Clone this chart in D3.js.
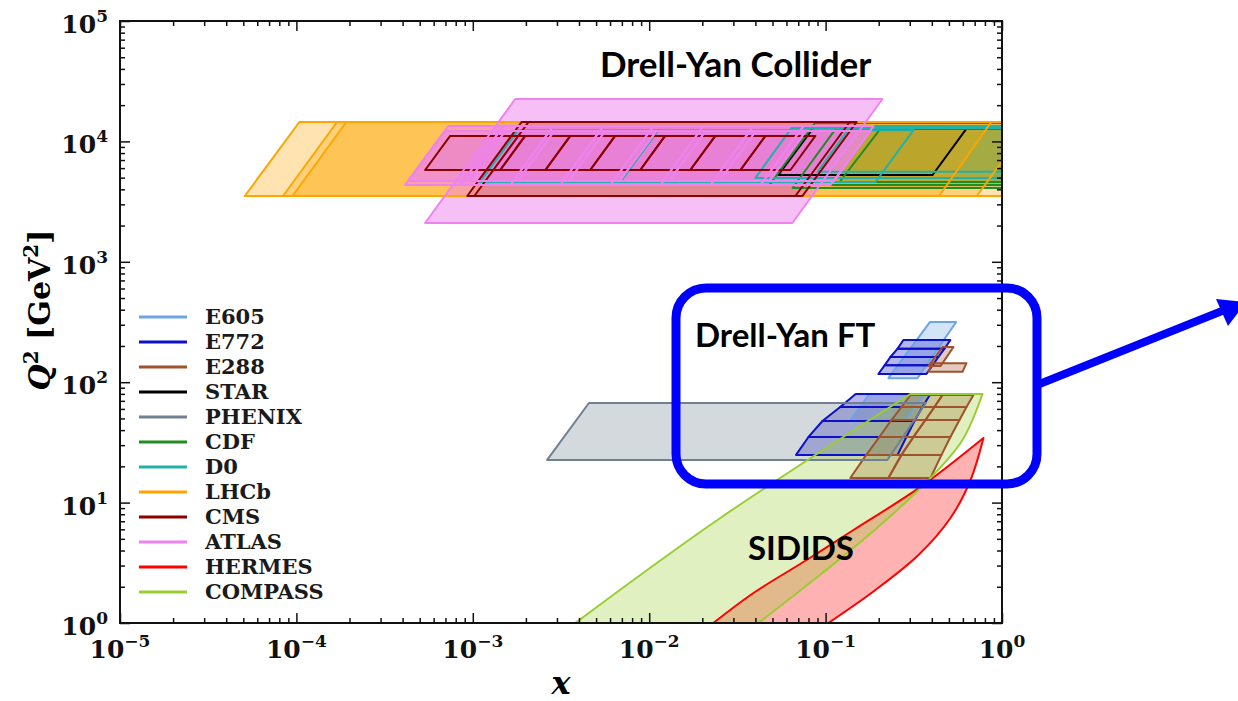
<!DOCTYPE html>
<html>
<head>
<meta charset="utf-8">
<script src="https://cdn.jsdelivr.net/npm/d3@7/dist/d3.min.js"></script>
<style>
  html, body { margin: 0; padding: 0; background: #fff; }
  svg { display: block; }
  .tick-label { font-family: 'DejaVu Serif', serif; font-weight: bold; font-size: 25px; fill: #111; }
  .legend text { font-family: 'DejaVu Serif', serif; font-weight: bold; font-size: 21px; fill: #1a1a1a; }
  .note { font-family: Lato, 'Open Sans', sans-serif; font-weight: bold; fill: #000; }
</style>
</head>
<body>
<svg id="chart" width="1238" height="701"></svg>
<script>
var experiments = ['E605', 'E772', 'E288', 'STAR', 'PHENIX', 'CDF', 'D0', 'LHCb', 'CMS', 'ATLAS', 'HERMES', 'COMPASS'];
var lineColors = ['#6ea4e4', '#0c10c8', '#a0522d', '#000000', '#708090', '#228b22', '#20b2aa', '#ffa500', '#8b0000', '#ee82ee', '#ff0000', '#9acd32'];
var fillAlpha = [0.3, 0.3, 0.3, 0.3, 0.3, 0.3, 0.3, 0.3, 0.15, 0.5, 0.3, 0.3];

var xMajor = [1e-5, 1e-4, 1e-3, 1e-2, 1e-1, 1];
var xExp = ['\u22125', '\u22124', '\u22123', '\u22122', '\u22121', '0'];
var yMajor = [1, 10, 100, 1000, 1e4, 1e5];
var yExp = ['0', '1', '2', '3', '4', '5'];

// Drell-Yan fixed target: q = [Q2 low, Q2 high], lo = x edges at Q2 low, hi = x edges at Q2 high
var e605Boxes = [
  {q: [108, 316], lo: [0.227, 0.332], hi: [0.39, 0.55]},
  {q: [48.5, 79.8], lo: [0.138, 0.284], hi: [0.177, 0.364]}
];
var e772Boxes = [
  {q: [190, 224], lo: [0.256, 0.472], hi: [0.276, 0.510]},
  {q: [162, 190], lo: [0.233, 0.436], hi: [0.256, 0.472]},
  {q: [138, 162], lo: [0.216, 0.404], hi: [0.233, 0.436]},
  {q: [117, 138], lo: [0.199, 0.373], hi: [0.216, 0.404]},
  {q: [62.2, 79.8], lo: [0.121, 0.354], hi: [0.148, 0.393]},
  {q: [47.6, 62.2], lo: [0.096, 0.319], hi: [0.121, 0.354]},
  {q: [35.1, 47.6], lo: [0.080, 0.287], hi: [0.096, 0.319]},
  {q: [24.9, 35.1], lo: [0.068, 0.256], hi: [0.080, 0.287]}
];
var e288Boxes = [
  {q: [136, 196], lo: [0.383, 0.448], hi: [0.460, 0.531]},
  {q: [122, 144], lo: [0.383, 0.597], hi: [0.404, 0.629]}
];
var e288GridQ = [78.3, 62.2, 48.5, 35.1, 24.9, 16.0];
var e288GridX = [
  [0.303, 0.269, 0.236, 0.202, 0.170, 0.138],
  [0.460, 0.414, 0.368, 0.315, 0.269, 0.227],
  [0.689, 0.629, 0.574, 0.510, 0.454, 0.393]
];
var phenixBoxes = [
  {q: [22.6, 67.2], lo: [0.00264, 0.224], hi: [0.00455, 0.37]}
];

// Drell-Yan collider
var starBoxes = [
  {q: [5260, 12900], lo: [0.054, 0.404], hi: [0.085, 0.632]}
];
var cdfBoxes = [
  {q: [4340, 14200], lo: [0.048, 1.3], hi: [0.087, 2.35]},
  {q: [4600, 13400], lo: [0.12, 1.5], hi: [0.21, 2.6]},
  {q: [4100, 12700], lo: [0.065, 1.4], hi: [0.114, 2.5]}
];
var d0Boxes = [
  {q: [4600, 12400], lo: [0.0011, 0.00686], hi: [0.00181, 0.01127]},
  {q: [4600, 12400], lo: [0.00686, 0.192], hi: [0.01127, 0.315]},
  {q: [4970, 12900], lo: [0.04, 1.5], hi: [0.064, 2.4]},
  {q: [5600, 13400], lo: [0.09, 1.6], hi: [0.139, 2.5]}
];
var lhcbBoxes = [
  {q: [3520, 14500], lo: [5.1e-5, 0.44], hi: [1.04e-4, 0.87]},
  {q: [3520, 14500], lo: [8.4e-5, 0.72], hi: [1.7e-4, 1.46]},
  {q: [3520, 14500], lo: [9.5e-5, 1.2], hi: [1.92e-4, 2.4]}
];
var cmsBoxes = [
  {q: [3520, 14500], lo: [9.3e-4, 0.0674], hi: [0.00189, 0.137]},
  {q: [3520, 14500], lo: [0.00102, 0.0739], hi: [0.00207, 0.150]}
];
var cmsBinQ = [5790, 11100];
var cmsBinLo = [5.37e-4, 1.43e-3, 2.58e-3, 4.63e-3, 8.9e-3, 0.0171, 0.0329, 0.0632];
var cmsBinHi = [7.44e-4, 1.98e-3, 3.57e-3, 6.41e-3, 0.0123, 0.0237, 0.0456, 0.0875];
var atlasBoxes = [
  {q: [2100, 22500], lo: [5.37e-4, 0.0648], hi: [0.00174, 0.21]}
];
var atlasBinQ = [4340, 13400];
var atlasBinLo = [4.13e-4, 8.48e-4, 1.63e-3, 3.13e-3, 6.02e-3, 0.01156, 0.0222, 0.0427, 0.1065];
var atlasBinHi = [7.26e-4, 1.49e-3, 2.86e-3, 5.5e-3, 0.01058, 0.0203, 0.039, 0.075, 0.187];
var atlasBin2Q = [4700, 12200];
var atlasBin2Lo = [4.3e-4, 9.5e-4, 1.8e-3, 3.5e-3, 6.8e-3, 0.013, 0.025, 0.048, 0.112];
var atlasBin2Hi = [6.93e-4, 1.53e-3, 2.9e-3, 5.64e-3, 0.011, 0.0209, 0.0403, 0.0773, 0.180];

// SIDIS bands, edges listed from low to high Q2
var hermesLeftX = [0.0231, 0.039, 0.0748, 0.1438, 0.345, 0.785];
var hermesLeftQ = [1, 1.775, 3.21, 5.92, 13.5, 34.4];
var hermesRightX = [0.1037, 0.1916, 0.336, 0.5104, 0.663, 0.785];
var hermesRightQ = [1, 1.88, 3.67, 7.45, 15.4, 34.4];
var compassLeftX = [0.00381, 0.0253, 0.3027];
var compassLeftQ = [1, 7.45, 79.8];
var compassRightX = [0.0416, 0.0959, 0.2045, 0.393, 0.597, 0.775];
var compassRightQ = [1, 2.60, 6.52, 16.0, 33.1, 79.8];

var margin = {left: 120, right: 1002, top: 21, bottom: 623};

var x = d3.scaleLog().domain([1e-5, 1]).range([margin.left, margin.right]);
var y = d3.scaleLog().domain([1, 1e5]).range([margin.bottom, margin.top]);

var line = d3.line()
  .x(function(d) { return x(d[0]); })
  .y(function(d) { return y(d[1]); });
var curve = d3.line()
  .x(function(d) { return x(d[0]); })
  .y(function(d) { return y(d[1]); })
  .curve(d3.curveCatmullRom.alpha(0.5));

function boxPath(b) {
  return line([[b.lo[0], b.q[0]], [b.lo[1], b.q[0]], [b.hi[1], b.q[1]], [b.hi[0], b.q[1]]]) + 'Z';
}
function binsFromEdges(q, lo, hi) {
  var out = [];
  for (var i = 0; i < lo.length - 1; i++) {
    out.push({q: q, lo: [lo[i], lo[i + 1]], hi: [hi[i], hi[i + 1]]});
  }
  return out;
}
function gridCells(qEdges, cols) {
  var out = [];
  for (var r = 0; r < qEdges.length - 1; r++) {
    for (var c = 0; c < cols.length - 1; c++) {
      out.push({
        q: [qEdges[r + 1], qEdges[r]],
        lo: [cols[c][r + 1], cols[c + 1][r + 1]],
        hi: [cols[c][r], cols[c + 1][r]]
      });
    }
  }
  return out;
}
// smooth left edge up, smooth right edge back down
function bandPath(lx, lq, rx, rq) {
  var left = lx.map(function(v, i) { return [v, lq[i]]; });
  var right = rx.map(function(v, i) { return [v, rq[i]]; }).reverse();
  return curve(left) + 'L' + curve(right).slice(1) + 'Z';
}

var shapes = {
  E605: e605Boxes.map(boxPath),
  E772: e772Boxes.map(boxPath),
  E288: e288Boxes.concat(gridCells(e288GridQ, e288GridX)).map(boxPath),
  STAR: starBoxes.map(boxPath),
  PHENIX: phenixBoxes.map(boxPath),
  CDF: cdfBoxes.map(boxPath),
  D0: d0Boxes.map(boxPath),
  LHCb: lhcbBoxes.map(boxPath),
  CMS: cmsBoxes.concat(binsFromEdges(cmsBinQ, cmsBinLo, cmsBinHi)).map(boxPath),
  ATLAS: atlasBoxes
    .concat(binsFromEdges(atlasBinQ, atlasBinLo, atlasBinHi))
    .concat(binsFromEdges(atlasBin2Q, atlasBin2Lo, atlasBin2Hi)).map(boxPath),
  HERMES: [bandPath(hermesLeftX, hermesLeftQ, hermesRightX, hermesRightQ)],
  COMPASS: [bandPath(compassLeftX, compassLeftQ, compassRightX, compassRightQ)]
};

var svg = d3.select('#chart');

svg.append('defs').append('clipPath').attr('id', 'plot-clip')
  .append('rect')
  .attr('x', margin.left).attr('y', margin.top)
  .attr('width', margin.right - margin.left)
  .attr('height', margin.bottom - margin.top);

var plot = svg.append('g').attr('clip-path', 'url(#plot-clip)');
var fills = plot.append('g').attr('class', 'fills');
var edges = plot.append('g').attr('class', 'edges');

experiments.forEach(function(name, i) {
  fills.append('g')
    .selectAll('path')
    .data(shapes[name])
    .enter().append('path')
      .attr('d', function(d) { return d; })
      .attr('fill', lineColors[i])
      .attr('fill-opacity', fillAlpha[i])
      .attr('stroke', 'none');
  edges.append('g')
    .selectAll('path')
    .data(shapes[name])
    .enter().append('path')
      .attr('d', function(d) { return d; })
      .attr('fill', 'none')
      .attr('stroke', lineColors[i])
      .attr('stroke-width', 2)
      .attr('stroke-linejoin', 'round');
});

// ticks pointing inward on all four sides
function minorTicks(majors) {
  var out = [];
  majors.slice(0, -1).forEach(function(m) {
    for (var k = 2; k < 10; k++) out.push(m * k);
  });
  return out;
}
var axes = svg.append('g').attr('class', 'axes');
function addAxis(axisFn, scale, values, size, tx, ty) {
  var g = axes.append('g')
    .attr('transform', 'translate(' + tx + ',' + ty + ')')
    .call(axisFn(scale).tickValues(values).tickSize(size).tickFormat(''));
  g.select('.domain').remove();
  g.selectAll('line').attr('stroke', '#111').attr('stroke-width', 1.5);
}
[[xMajor, -10], [minorTicks(xMajor), -5]].forEach(function(t) {
  addAxis(d3.axisBottom, x, t[0], t[1], 0, margin.bottom);
  addAxis(d3.axisTop, x, t[0], t[1], 0, margin.top);
});
[[yMajor, -10], [minorTicks(yMajor), -5]].forEach(function(t) {
  addAxis(d3.axisLeft, y, t[0], t[1], margin.left, 0);
  addAxis(d3.axisRight, y, t[0], t[1], margin.right, 0);
});

axes.append('rect')
  .attr('x', margin.left).attr('y', margin.top)
  .attr('width', margin.right - margin.left)
  .attr('height', margin.bottom - margin.top)
  .attr('fill', 'none')
  .attr('stroke', '#111')
  .attr('stroke-width', 2);

function powerLabel(sel, exp) {
  sel.append('tspan').text('10');
  sel.append('tspan').attr('dy', -11).attr('font-size', 17).text(exp);
}
xMajor.forEach(function(v, i) {
  axes.append('text')
    .attr('class', 'tick-label')
    .attr('x', x(v)).attr('y', 658)
    .attr('text-anchor', 'middle')
    .call(powerLabel, xExp[i]);
});
yMajor.forEach(function(v, i) {
  axes.append('text')
    .attr('class', 'tick-label')
    .attr('x', 108).attr('y', y(v) + 12)
    .attr('text-anchor', 'end')
    .call(powerLabel, yExp[i]);
});

// axis titles
svg.append('text')
  .attr('x', 561).attr('y', 694)
  .attr('text-anchor', 'middle')
  .style('font-family', "'DejaVu Serif', serif")
  .style('font-weight', 'bold')
  .style('font-style', 'italic')
  .style('font-size', '32px')
  .text('x');

var ylab = svg.append('text')
  .attr('transform', 'translate(50,310) rotate(-90)')
  .attr('text-anchor', 'middle')
  .style('font-family', "'DejaVu Serif', serif")
  .style('font-weight', 'bold')
  .style('font-size', '30px');
ylab.append('tspan').style('font-style', 'italic').text('Q');
ylab.append('tspan').attr('dy', -12).style('font-size', '20px').text('2');
ylab.append('tspan').attr('dy', 12).text(' [GeV');
ylab.append('tspan').attr('dy', -12).style('font-size', '20px').text('2');
ylab.append('tspan').attr('dy', 12).text(']');

// legend
var legend = svg.append('g').attr('class', 'legend');
var rows = legend.selectAll('g')
  .data(experiments)
  .enter().append('g')
    .attr('transform', function(d, i) { return 'translate(139,' + (317 + 25 * i) + ')'; });
rows.append('line')
  .attr('x1', 0).attr('x2', 48)
  .attr('stroke', function(d, i) { return lineColors[i]; })
  .attr('stroke-width', 3);
rows.append('text')
  .attr('x', 66).attr('y', 7)
  .text(function(d) { return d; });

// annotations
svg.append('text').attr('class', 'note')
  .attr('x', 600).attr('y', 77)
  .style('font-size', '35px')
  .text('Drell-Yan Collider');
svg.append('text').attr('class', 'note')
  .attr('x', 695).attr('y', 347)
  .style('font-size', '33px')
  .text('Drell-Yan FT');
svg.append('text').attr('class', 'note')
  .attr('x', 748).attr('y', 560)
  .style('font-size', '33px')
  .text('SIDIDS');

svg.append('rect')
  .attr('x', 676).attr('y', 288)
  .attr('width', 361).attr('height', 196)
  .attr('rx', 30).attr('ry', 30)
  .attr('fill', 'none')
  .attr('stroke', '#0000ff')
  .attr('stroke-width', 9);

svg.append('line')
  .attr('x1', 1037).attr('y1', 385)
  .attr('x2', 1222).attr('y2', 311)
  .attr('stroke', '#0000ff')
  .attr('stroke-width', 8);
svg.append('path')
  .attr('d', 'M1216,299 L1246,302 L1228,326 Z')
  .attr('fill', '#0000ff');
</script>
</body>
</html>
